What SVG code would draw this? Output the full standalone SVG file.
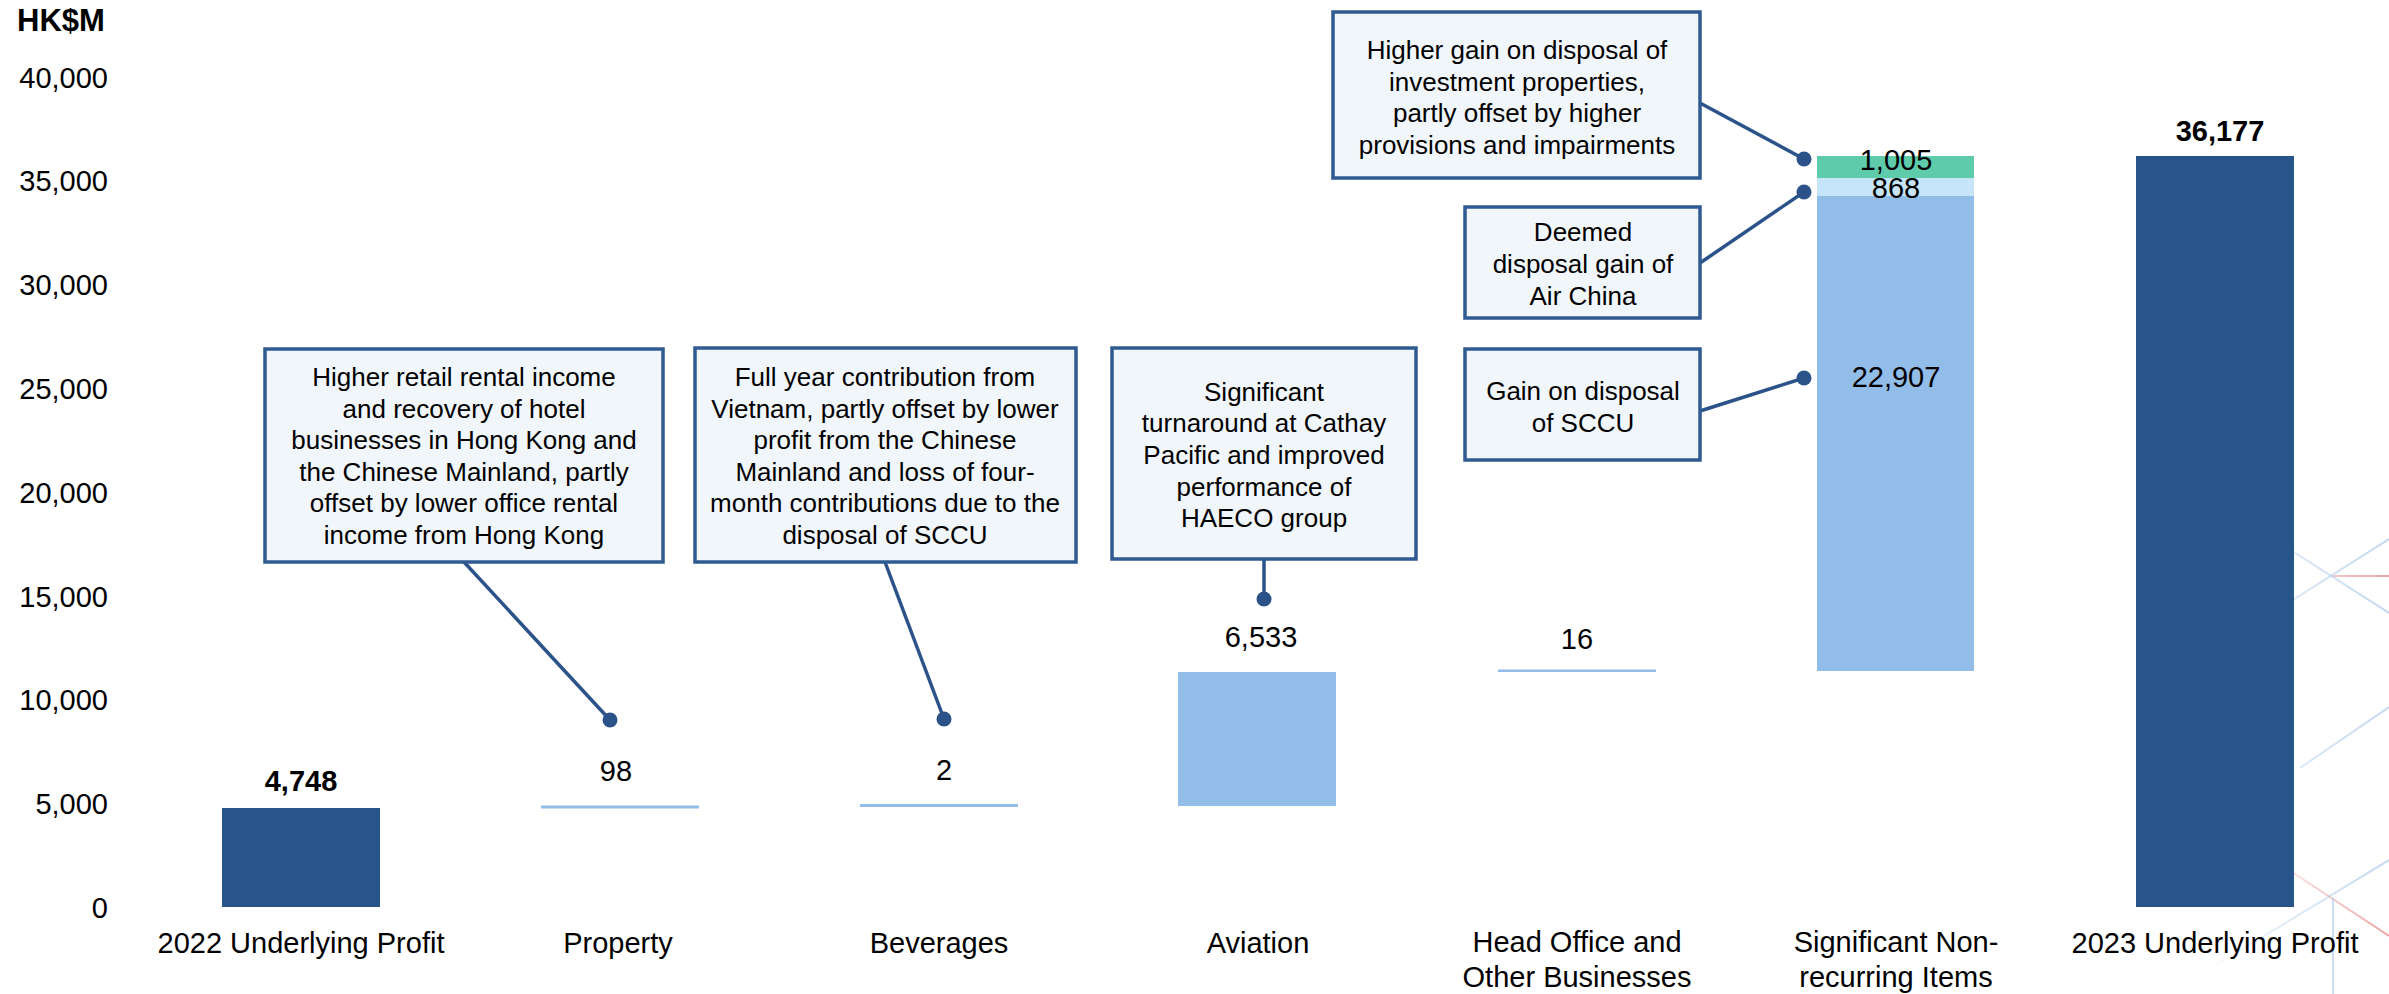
<svg xmlns="http://www.w3.org/2000/svg" width="2389" height="994" viewBox="0 0 2389 994">
<style>
text{font-family:"Liberation Sans",Arial,sans-serif;fill:#000;}
.ax{font-size:29px;text-anchor:end;}
.cat{font-size:29px;text-anchor:middle;}
.val{font-size:29px;text-anchor:middle;}
.unit{font-size:31px;font-weight:bold;}
.b{font-weight:bold;}
.bx{fill:#F1F6FB;stroke:#2F5A92;stroke-width:3.5;}
.bt{font-size:26px;text-anchor:middle;}
.dark{fill:#27548A;}
.lt{fill:#93BDE9;}
.con line{stroke:#2B5389;stroke-width:3.5;}
.con circle{fill:#2B5389;}
.bgb{stroke:url(#gb);stroke-width:2;fill:none;}
.bgr{stroke:url(#gr);stroke-width:2;fill:none;}
</style>
<defs>
<linearGradient id="gb" gradientUnits="userSpaceOnUse" x1="2200" y1="0" x2="2389" y2="0">
<stop offset="0" stop-color="#9CBEE6" stop-opacity="0"/>
<stop offset="0.6" stop-color="#9CBEE6" stop-opacity="0.4"/>
<stop offset="1" stop-color="#9CBEE6" stop-opacity="0.6"/>
</linearGradient>
<linearGradient id="gr" gradientUnits="userSpaceOnUse" x1="2250" y1="0" x2="2389" y2="0">
<stop offset="0" stop-color="#E46A6E" stop-opacity="0.05"/>
<stop offset="1" stop-color="#E46A6E" stop-opacity="0.6"/>
</linearGradient>
</defs>
<rect width="2389" height="994" fill="#fff"/>
<g id="background-pattern">
<line class="bgb" x1="2250" y1="524" x2="2389" y2="613"/>
<line class="bgb" x1="2250" y1="627" x2="2389" y2="539"/>
<line class="bgr" x1="2333" y1="576" x2="2389" y2="576"/>
<line class="bgb" x1="2300" y1="768" x2="2389" y2="707"/>
<line class="bgr" x1="2260" y1="851" x2="2389" y2="936"/>
<line class="bgb" x1="2200" y1="975" x2="2389" y2="860"/>
<line stroke="#9CBEE6" stroke-opacity="0.5" stroke-width="2" x1="2333" y1="898" x2="2333" y2="994"/>
</g>
<g id="axis">
<text class="unit" x="17" y="31">HK$M</text>
<text class="ax" x="108" y="88">40,000</text>
<text class="ax" x="108" y="191">35,000</text>
<text class="ax" x="108" y="295">30,000</text>
<text class="ax" x="108" y="399">25,000</text>
<text class="ax" x="108" y="503">20,000</text>
<text class="ax" x="108" y="607">15,000</text>
<text class="ax" x="108" y="710">10,000</text>
<text class="ax" x="108" y="814">5,000</text>
<text class="ax" x="108" y="918">0</text>
</g>
<g id="bar-2022">
<rect class="dark" x="222" y="808" width="158" height="99"/>
<text class="val b" x="301" y="791">4,748</text>
<text class="cat" x="301" y="953">2022 Underlying Profit</text>
</g>
<g id="bar-property">
<rect class="lt" x="541" y="805.5" width="158" height="3"/>
<text class="val" x="616" y="781">98</text>
<text class="cat" x="618" y="953">Property</text>
</g>
<g id="bar-beverages">
<rect class="lt" x="860" y="804" width="158" height="3"/>
<text class="val" x="944" y="780">2</text>
<text class="cat" x="939" y="953">Beverages</text>
</g>
<g id="bar-aviation">
<rect class="lt" x="1178" y="672" width="158" height="134"/>
<text class="val" x="1261" y="647">6,533</text>
<text class="cat" x="1258" y="953">Aviation</text>
</g>
<g id="bar-head-office">
<rect class="lt" x="1498" y="669.5" width="158" height="2.5"/>
<text class="val" x="1577" y="649">16</text>
<text class="cat" x="1577" y="952">Head Office and</text>
<text class="cat" x="1577" y="987">Other Businesses</text>
</g>
<g id="bar-significant">
<rect class="lt" x="1817" y="196" width="157" height="475"/>
<rect fill="#C6E4FA" x="1817" y="178" width="157" height="18"/>
<rect fill="#5ECBAA" x="1817" y="156" width="157" height="22"/>
<text class="val" x="1896" y="170">1,005</text>
<text class="val" x="1896" y="198">868</text>
<text class="val" x="1896" y="387">22,907</text>
<text class="cat" x="1896" y="952">Significant Non-</text>
<text class="cat" x="1896" y="987">recurring Items</text>
</g>
<g id="bar-2023">
<rect class="dark" x="2136" y="156" width="158" height="751"/>
<text class="val b" x="2220" y="141">36,177</text>
<text class="cat" x="2215" y="953">2023 Underlying Profit</text>
</g>
<g id="connectors" class="con">
<line x1="464" y1="562" x2="610" y2="720"/>
<circle cx="610" cy="720" r="7.5"/>
<line x1="885" y1="562" x2="944" y2="719"/>
<circle cx="944" cy="719" r="7.5"/>
<line x1="1264" y1="559" x2="1264" y2="599"/>
<circle cx="1264" cy="599" r="7.5"/>
<line x1="1700" y1="103" x2="1804" y2="159"/>
<circle cx="1804" cy="159" r="7.5"/>
<line x1="1700" y1="263" x2="1804" y2="192"/>
<circle cx="1804" cy="192" r="7.5"/>
<line x1="1700" y1="411" x2="1804" y2="378"/>
<circle cx="1804" cy="378" r="7.5"/>
</g>
<g id="note-property">
<rect class="bx" x="265" y="349" width="398" height="213"/>
<text class="bt" x="464" y="386">Higher retail rental income</text>
<text class="bt" x="464" y="418">and recovery of hotel</text>
<text class="bt" x="464" y="449">businesses in Hong Kong and</text>
<text class="bt" x="464" y="481">the Chinese Mainland, partly</text>
<text class="bt" x="464" y="512">offset by lower office rental</text>
<text class="bt" x="464" y="544">income from Hong Kong</text>
</g>
<g id="note-beverages">
<rect class="bx" x="695" y="348" width="381" height="214"/>
<text class="bt" x="885" y="386">Full year contribution from</text>
<text class="bt" x="885" y="418">Vietnam, partly offset by lower</text>
<text class="bt" x="885" y="449">profit from the Chinese</text>
<text class="bt" x="885" y="481">Mainland and loss of four-</text>
<text class="bt" x="885" y="512">month contributions due to the</text>
<text class="bt" x="885" y="544">disposal of SCCU</text>
</g>
<g id="note-aviation">
<rect class="bx" x="1112" y="348" width="304" height="211"/>
<text class="bt" x="1264" y="401">Significant</text>
<text class="bt" x="1264" y="432">turnaround at Cathay</text>
<text class="bt" x="1264" y="464">Pacific and improved</text>
<text class="bt" x="1264" y="496">performance of</text>
<text class="bt" x="1264" y="527">HAECO group</text>
</g>
<g id="note-investment">
<rect class="bx" x="1333" y="12" width="367" height="166"/>
<text class="bt" x="1517" y="59">Higher gain on disposal of</text>
<text class="bt" x="1517" y="91">investment properties,</text>
<text class="bt" x="1517" y="122">partly offset by higher</text>
<text class="bt" x="1517" y="154">provisions and impairments</text>
</g>
<g id="note-airchina">
<rect class="bx" x="1465" y="207" width="235" height="111"/>
<text class="bt" x="1583" y="241">Deemed</text>
<text class="bt" x="1583" y="273">disposal gain of</text>
<text class="bt" x="1583" y="305">Air China</text>
</g>
<g id="note-sccu">
<rect class="bx" x="1465" y="349" width="235" height="111"/>
<text class="bt" x="1583" y="400">Gain on disposal</text>
<text class="bt" x="1583" y="432">of SCCU</text>
</g>
</svg>
